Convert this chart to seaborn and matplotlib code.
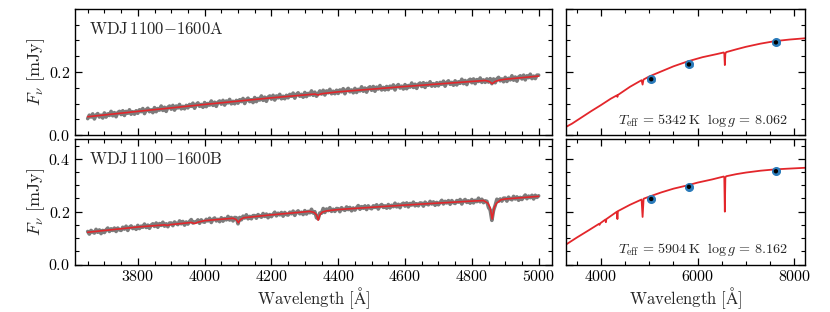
import numpy as np
import pandas as pd
import matplotlib
matplotlib.use("Agg")
import matplotlib.pyplot as plt
from matplotlib.ticker import MultipleLocator
import seaborn as sns

# ---------------- data (fluxes in microJansky) ----------------
spec_wave_start = 3650
spec_wave_step = 5

spec_A_uJy = [
    52, 63, 57, 67, 51, 63, 68, 57, 63, 54,
    70, 57, 67, 62, 75, 61, 71, 58, 71, 75,
    65, 77, 62, 75, 69, 80, 66, 74, 66, 77,
    69, 80, 74, 84, 68, 80, 85, 74, 80, 71,
    87, 74, 84, 79, 92, 78, 88, 75, 88, 92,
    82, 94, 79, 92, 86, 97, 83, 91, 83, 94,
    86, 97, 91, 101, 85, 97, 102, 91, 97, 88,
    103, 90, 100, 95, 108, 94, 104, 91, 104, 108,
    98, 110, 95, 108, 102, 113, 99, 107, 99, 110,
    101, 112, 106, 116, 100, 112, 117, 106, 112, 103,
    119, 106, 116, 111, 124, 110, 120, 107, 120, 124,
    114, 126, 111, 124, 118, 129, 115, 123, 115, 126,
    118, 129, 123, 133, 117, 129, 134, 123, 129, 120,
    135, 122, 132, 127, 140, 126, 136, 123, 131, 140,
    130, 142, 127, 140, 134, 145, 131, 139, 131, 142,
    132, 143, 137, 147, 131, 143, 148, 137, 143, 134,
    148, 135, 145, 140, 153, 139, 149, 136, 149, 153,
    142, 154, 139, 152, 146, 157, 143, 151, 143, 154,
    144, 155, 149, 159, 143, 155, 160, 149, 155, 146,
    160, 147, 157, 152, 165, 151, 161, 148, 161, 165,
    154, 166, 151, 164, 158, 169, 155, 163, 155, 166,
    156, 167, 161, 171, 155, 167, 172, 161, 167, 158,
    172, 159, 169, 164, 177, 163, 173, 160, 173, 177,
    166, 178, 163, 176, 170, 181, 167, 175, 167, 178,
    168, 179, 163, 178, 166, 178, 183, 172, 178, 169,
    183, 170, 180, 175, 188, 174, 184, 171, 184, 188,
    178, 190, 175, 188, 182, 193, 179, 187, 179, 190,
    190,
]

spec_B_uJy = [
    125, 115, 129, 123, 119, 133, 122, 131, 117, 129,
    121, 131, 138, 125, 135, 129, 138, 125, 138, 131,
    129, 141, 134, 145, 129, 141, 146, 136, 141, 133,
    148, 136, 145, 141, 153, 140, 149, 137, 149, 154,
    144, 157, 141, 155, 148, 160, 145, 154, 143, 157,
    157, 147, 161, 155, 151, 165, 154, 163, 149, 161,
    153, 163, 170, 157, 161, 161, 169, 156, 169, 162,
    160, 171, 165, 175, 159, 171, 176, 165, 171, 162,
    177, 164, 174, 169, 182, 168, 178, 165, 178, 177,
    154, 178, 169, 183, 176, 188, 173, 182, 173, 185,
    185, 175, 189, 183, 179, 193, 182, 191, 177, 189,
    181, 190, 198, 184, 194, 188, 197, 183, 197, 189,
    187, 198, 192, 202, 186, 198, 203, 192, 198, 189,
    204, 191, 201, 196, 209, 195, 200, 177, 173, 195,
    194, 212, 197, 210, 204, 215, 201, 209, 201, 212,
    211, 200, 215, 208, 205, 218, 208, 216, 203, 214,
    206, 215, 223, 209, 219, 213, 222, 208, 222, 214,
    211, 222, 216, 226, 210, 222, 227, 216, 222, 213,
    227, 214, 224, 219, 232, 218, 228, 215, 228, 232,
    221, 233, 218, 231, 225, 236, 222, 230, 222, 233,
    232, 221, 236, 229, 226, 239, 229, 237, 224, 235,
    226, 235, 243, 229, 239, 233, 242, 228, 242, 234,
    231, 242, 236, 246, 229, 241, 246, 235, 241, 232,
    246, 233, 243, 238, 251, 237, 247, 234, 241, 239,
    216, 206, 167, 205, 224, 247, 239, 248, 240, 251,
    251, 240, 255, 248, 245, 258, 248, 256, 243, 254,
    246, 255, 263, 249, 259, 253, 262, 248, 262, 254,
    260,
]

# model over the spectroscopic range
modspec_A_wave = [3650, 3800, 4000, 4200, 4330, 4340, 4350, 4400, 4600, 4800,
                  4840, 4852, 4861, 4870, 4882, 4900, 5000]
modspec_A_uJy = [58, 75, 97, 118, 130, 127, 131, 137, 154, 170,
                 173, 170, 163, 170, 174, 177, 187]

modspec_B_wave = [3650, 3800, 3880, 3889, 3898, 3960, 3970, 3980, 4000, 4085,
                  4095, 4101, 4107, 4117, 4200, 4315, 4328, 4335, 4340, 4345,
                  4352, 4365, 4400, 4600, 4800, 4835, 4848, 4855, 4861, 4867,
                  4874, 4887, 4900, 5000]
modspec_B_uJy = [122, 142, 150, 148, 151, 159, 155, 160, 166, 175,
                 170, 158, 170, 177, 188, 201, 197, 188, 168, 188,
                 198, 203, 208, 225, 240, 242, 232, 215, 172, 215,
                 232, 245, 248, 258]

# model over the photometric range
modsed_A_wave = [3280, 3400, 3600, 3800, 4000, 4200, 4330, 4340, 4350, 4600,
                 4840, 4861, 4880, 5000, 5250, 5500, 5800, 6100, 6400, 6540,
                 6552, 6563, 6574, 6590, 6800, 7000, 7300, 7600, 7900, 8220]
modsed_A_uJy = [26, 36, 56, 76, 95, 115, 126, 121, 127, 153,
                174, 160, 176, 186, 202, 218, 234, 247, 257, 262,
                258, 222, 258, 263, 272, 280, 290, 298, 303, 307]

modsed_B_wave = [3280, 3500, 3750, 3960, 3970, 3980, 4000, 4090, 4101, 4112,
                 4330, 4340, 4350, 4600, 4840, 4861, 4882, 5000, 5250, 5500,
                 5800, 6000, 6300, 6540, 6552, 6563, 6574, 6590, 6800, 7000,
                 7300, 7600, 7900, 8220]
modsed_B_uJy = [76, 102, 130, 154, 150, 155, 158, 170, 160, 172,
                200, 172, 202, 226, 246, 180, 249, 257, 273, 287,
                300, 310, 322, 333, 329, 200, 329, 334, 342, 348,
                355, 360, 363, 366]

phot_wave = [5040, 5820, 7620]
phot_A_uJy = [177, 224, 294]
phot_A_err = [4, 4, 4]
phot_A_syn = [177, 224, 294]
phot_B_uJy = [248, 294, 353]
phot_B_err = [4, 4, 4]
phot_B_syn = [248, 294, 353]

names = ["WDJ$\\,$1100$-$1600A", "WDJ$\\,$1100$-$1600B"]
params = ["$T_{\\rm eff}\\,=\\,5342\\,{\\rm K}\\ \\ \\log g\\,=\\,8.062$",
          "$T_{\\rm eff}\\,=\\,5904\\,{\\rm K}\\ \\ \\log g\\,=\\,8.162$"]

# ---------------- style ----------------
sns.set_theme(style="ticks")
plt.rcParams.update({
    "font.family": ["cmr10", "DejaVu Serif"],
    "mathtext.fontset": "cm",
    "axes.formatter.use_mathtext": True,
    "axes.unicode_minus": False,
    "font.size": 11.5,
    "xtick.labelsize": 11.5,
    "ytick.labelsize": 11.5,
    "axes.labelsize": 12,
    "axes.edgecolor": "black",
    "axes.linewidth": 1.0,
    "xtick.color": "black",
    "ytick.color": "black",
})

GRAY = "#7c7c7c"
RED = "#e3262b"
BLUE = "#2b7bba"

fig = plt.figure(figsize=(8.3, 3.12), dpi=100)
W, H = 830, 312
def box(x0, y0, x1, y1):
    return [x0 / W, 1 - y1 / H, (x1 - x0) / W, (y1 - y0) / H]

axL = [fig.add_axes(box(75, 9, 552, 135)), fig.add_axes(box(75, 139, 552, 264.5))]
axR = [fig.add_axes(box(566, 9, 805, 135)), fig.add_axes(box(566, 139, 805, 264.5))]

spectra = [spec_A_uJy, spec_B_uJy]
mspec = [(modspec_A_wave, modspec_A_uJy), (modspec_B_wave, modspec_B_uJy)]
msed = [(modsed_A_wave, modsed_A_uJy), (modsed_B_wave, modsed_B_uJy)]
phot = [(phot_A_uJy, phot_A_err, phot_A_syn), (phot_B_uJy, phot_B_err, phot_B_syn)]
ylims = [(0, 0.4), (0, 0.475)]

for i in range(2):
    a = axL[i]
    flux = np.array(spectra[i]) / 1000.0
    wave = spec_wave_start + spec_wave_step * np.arange(len(flux))
    df = pd.DataFrame({"wave": wave, "flux": flux})
    sns.lineplot(data=df, x="wave", y="flux", ax=a, color=GRAY, lw=2.6, zorder=2)
    dm = pd.DataFrame({"wave": mspec[i][0], "flux": np.array(mspec[i][1]) / 1000.0})
    sns.lineplot(data=dm, x="wave", y="flux", ax=a, color=RED, lw=1.2, zorder=3)
    a.set_xlim(3612, 5040)
    a.set_ylim(*ylims[i])
    a.xaxis.set_major_locator(MultipleLocator(200))
    a.xaxis.set_minor_locator(MultipleLocator(50))
    a.yaxis.set_major_locator(MultipleLocator(0.2))
    a.yaxis.set_minor_locator(MultipleLocator(0.05))
    a.set_ylabel("$F_\\nu\\ [\\mathrm{mJy}]$", labelpad=1, fontsize=13)
    a.text(0.029, 0.80, names[i], transform=a.transAxes, fontsize=12,
           ha="left", va="baseline")

    b = axR[i]
    ds = pd.DataFrame({"wave": msed[i][0], "flux": np.array(msed[i][1]) / 1000.0})
    sns.lineplot(data=ds, x="wave", y="flux", ax=b, color=RED, lw=1.3, zorder=2)
    pf, pe, ps = phot[i]
    b.errorbar(phot_wave, np.array(pf) / 1000.0, yerr=np.array(pe) / 1000.0,
               fmt="o", color=BLUE, ms=5.5, capsize=3, elinewidth=1.2,
               mec=BLUE, zorder=3)
    sns.scatterplot(x=phot_wave, y=np.array(ps) / 1000.0, ax=b, color="black",
                    s=10, zorder=4, edgecolor="none")
    b.set_xlim(3276, 8222)
    b.set_ylim(*ylims[i])
    b.xaxis.set_major_locator(MultipleLocator(2000))
    b.xaxis.set_minor_locator(MultipleLocator(500))
    b.yaxis.set_major_locator(MultipleLocator(0.2))
    b.yaxis.set_minor_locator(MultipleLocator(0.05))
    b.set_yticklabels([])
    b.set_ylabel("")
    b.text(0.93, 0.09, params[i], transform=b.transAxes, fontsize=10.2,
           ha="right", va="baseline")

axL[0].set_yticks([0.0, 0.2])
for a in axL + axR:
    a.tick_params(which="both", direction="in", top=True, right=True,
                  bottom=True, left=True)
    a.tick_params(which="major", length=5, width=0.9)
    a.tick_params(which="minor", length=2.8, width=0.8)
    a.set_xlabel("")
axL[0].set_xticks(np.arange(3800, 5001, 200))
axL[0].set_xticklabels([])
axR[0].set_xticklabels([])
axL[0].set_ylim(*ylims[0])
axL[1].set_xlabel("$\\mathrm{Wavelength\\ [\\AA]}$", labelpad=1)
axR[1].set_xlabel("$\\mathrm{Wavelength\\ [\\AA]}$", labelpad=1)

fig.savefig("out.png", dpi=100)
